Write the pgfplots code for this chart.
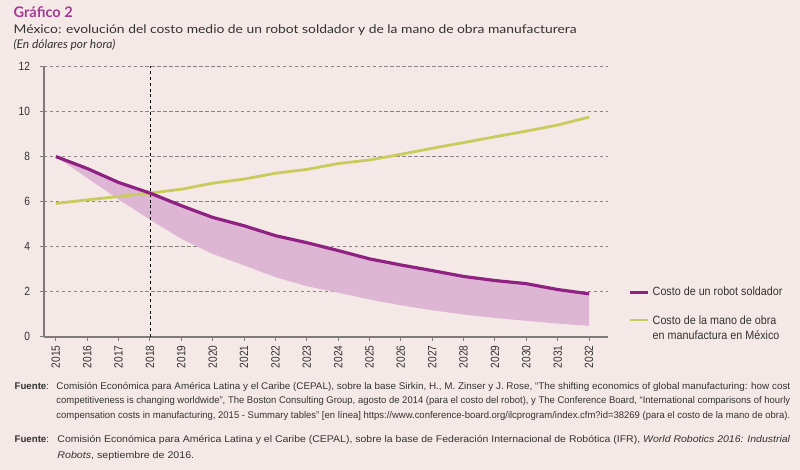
\documentclass[border=0pt]{standalone}
\usepackage{fontspec}
\setmainfont{Lato}
\newfontfamily\condfont[FakeStretch=0.85]{Liberation Sans}
\newfontfamily\legfont[FakeStretch=0.9]{Liberation Sans}
\newfontfamily\notefont{Liberation Sans}
\usepackage{graphicx}
\usepackage{xcolor}
\usepackage{pgfplots}
\usepgfplotslibrary{fillbetween}
\pgfplotsset{compat=1.18}
\definecolor{bg}{HTML}{F4E9E6}
\definecolor{ttl}{HTML}{A33A93}
\definecolor{txt}{HTML}{333333}
\definecolor{robot}{HTML}{8E2182}
\definecolor{shade}{HTML}{DDB6D4}
\definecolor{labour}{HTML}{C9CB5C}
\definecolor{gridc}{HTML}{8C8484}
\definecolor{axisc}{HTML}{7F7B7B}

\pgfplotstableread{
year robot labour lower
2015 8.00 5.92 8.00
2016 7.47 6.08 7.05
2017 6.85 6.23 6.10
2018 6.38 6.38 5.20
2019 5.82 6.55 4.35
2020 5.30 6.82 3.68
2021 4.93 7.00 3.17
2022 4.49 7.26 2.65
2023 4.18 7.43 2.25
2024 3.83 7.69 1.96
2025 3.46 7.85 1.66
2026 3.19 8.10 1.40
2027 2.94 8.37 1.18
2028 2.68 8.62 0.99
2029 2.50 8.88 0.84
2030 2.36 9.13 0.71
2031 2.10 9.40 0.59
2032 1.91 9.75 0.49
}\data

\begin{document}
\pagecolor{bg}
\begin{tikzpicture}
\begin{axis}[
  at={(30.525pt,-253.725pt)}, anchor=south west,
  scale only axis, width=424.5pt, height=203.7pt,
  xmin=2014.619, xmax=2032.587, ymin=0, ymax=12,
  axis x line*=bottom, axis y line*=left,
  axis line style={draw=axisc, line width=1.1pt, -},
  xtick={2015,...,2032}, ytick={0,2,...,12},
  tick align=outside, major tick length=3pt,
  tick style={draw=axisc, line width=0.8pt},
  ymajorgrids, grid style={draw=gridc, dash pattern=on 2.5pt off 2pt, line width=0.6pt},
  /pgf/number format/assume math mode=true,
  x tick label style={/pgf/number format/1000 sep={}, rotate=90, anchor=east,
     font=\condfont\fontsize{9}{10}\selectfont, text=txt},
  y tick label style={font=\condfont\fontsize{9}{10}\selectfont, text=txt, xshift=-4pt},
  legend style={at={(1.0364,0.195)}, anchor=north west, draw=none, fill=none,
     font=\legfont\fontsize{9}{11.5}\selectfont, text=txt, inner sep=0pt, row sep=8pt,
     /tikz/every even column/.append style={column sep=3pt}},
  legend cell align=left,
  legend image code/.code={\draw[#1] (0pt,0pt) -- (14pt,0pt);},
]
\addplot[name path=up, draw=none, forget plot] table[x=year, y=robot] {\data};
\addplot[name path=lo, draw=none, forget plot] table[x=year, y=lower] {\data};
\addplot[fill=shade, draw=none, forget plot] fill between[of=up and lo];
\addplot[black, line width=0.7pt, dash pattern=on 2.2pt off 2.2pt, forget plot] coordinates {(2018,0) (2018,12)};
\addplot[labour, line width=2.1pt, forget plot] table[x=year, y=labour] {\data};
\addplot[robot, line width=2.4pt] table[x=year, y=robot] {\data};
\addlegendentry{Costo de un robot soldador}
\addlegendimage{labour, line width=2.1pt}
\addlegendentry{\begin{tabular}[t]{@{}l@{}}Costo de la mano de obra\\en manufactura en México\end{tabular}}
\end{axis}
\begin{scope}[x=0.75pt,y=-0.75pt]
\node[anchor=base west, inner sep=0, font=\fontsize{11}{13}\selectfont\bfseries, text=ttl] at (10,17.3) {Gráfico 2};
\node[anchor=base west, inner sep=0, text=txt] at (10,33.7) {\resizebox{424pt}{\height}{\fontsize{9}{11}\selectfont México: evolución del costo medio de un robot soldador y de la mano de obra manufacturera}};
\node[anchor=base west, inner sep=0, font=\fontsize{9}{11}\selectfont\itshape, text=txt] at (10,48.3) {(En dólares por hora)};
% notes
\node[anchor=base west, inner sep=0, font=\notefont\fontsize{7.3}{9}\selectfont, text=txt] at (11,390.7) {\textbf{Fuente}:};
\node[anchor=base west, inner sep=0, text=txt] at (53,390.7) {\resizebox{552.7pt}{\height}{\notefont\fontsize{7.3}{9}\selectfont Comisión Económica para América Latina y el Caribe (CEPAL), sobre la base Sirkin, H., M. Zinser y J. Rose, “The shifting economics of global manufacturing: how cost}};
\node[anchor=base west, inner sep=0, text=txt] at (53,405.7) {\resizebox{552.7pt}{\height}{\notefont\fontsize{7.3}{9}\selectfont competitiveness is changing worldwide”, The Boston Consulting Group, agosto de 2014 (para el costo del robot), y The Conference Board, “International comparisons of hourly}};
\node[anchor=base west, inner sep=0, text=txt] at (53,420.7) {\resizebox{552.7pt}{\height}{\notefont\fontsize{7.3}{9}\selectfont compensation costs in manufacturing, 2015 - Summary tables” [en línea] https://www.conference-board.org/ilcprogram/index.cfm?id=38269 (para el costo de la mano de obra).}};
\node[anchor=base west, inner sep=0, font=\notefont\fontsize{7.3}{9}\selectfont, text=txt] at (11,444.3) {\textbf{Fuente}:};
\node[anchor=base west, inner sep=0, text=txt] at (54,444.3) {\resizebox{552pt}{\height}{\notefont\fontsize{7.3}{9}\selectfont Comisión Económica para América Latina y el Caribe (CEPAL), sobre la base de Federación Internacional de Robótica (IFR), \textit{World Robotics 2016: Industrial}}};
\node[anchor=base west, inner sep=0, text=txt] at (54,460.5) {\resizebox{103pt}{\height}{\notefont\fontsize{7.3}{9}\selectfont \textit{Robots}, septiembre de 2016.}};
\end{scope}
\pgfresetboundingbox
\path[use as bounding box] (0,0) rectangle (600pt,-354pt);
\end{tikzpicture}
\end{document}
